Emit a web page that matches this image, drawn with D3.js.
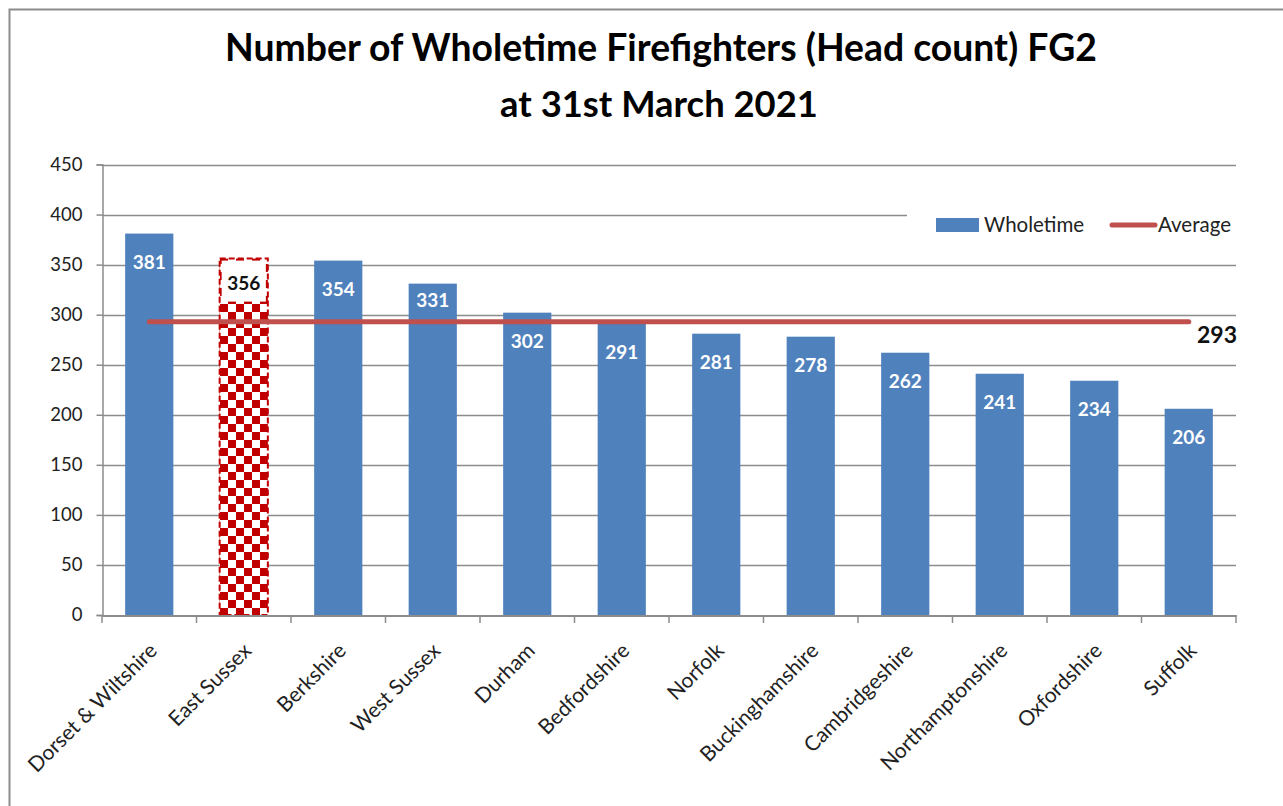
<!DOCTYPE html>
<html><head><meta charset="utf-8">
<script src="https://cdn.jsdelivr.net/npm/d3@7"></script>
<style>body{margin:0;background:#fff;} svg{display:block;}</style>
</head><body>
<script>
const categories = ["Dorset & Wiltshire","East Sussex","Berkshire","West Sussex","Durham","Bedfordshire","Norfolk","Buckinghamshire","Cambridgeshire","Northamptonshire","Oxfordshire","Suffolk"];
const wholetime = [381,356,354,331,302,291,281,278,262,241,234,206];
const average = 293;
const highlight = "East Sussex";
const yTicks = [0,50,100,150,200,250,300,350,400,450];
const titleLines = ["Number of Wholetime Firefighters (Head count) FG2","at 31st March 2021"];

const W=1283,H=806;
const FONT="Lato, 'Open Sans', sans-serif";
const svg=d3.select("body").append("svg").attr("width",W).attr("height",H);
svg.append("rect").attr("width",W).attr("height",H).attr("fill","#fff");
// outer border
svg.append("path").attr("d","M9.5,806 V9.5 H1283").attr("fill","none").attr("stroke","#8c8c8c").attr("stroke-width",2);

const defs=svg.append("defs");
const pat=defs.append("pattern").attr("id","checker").attr("patternUnits","userSpaceOnUse")
  .attr("width",16).attr("height",16).attr("x",220).attr("y",0);
pat.append("rect").attr("width",16).attr("height",16).attr("fill","#fff");
pat.append("rect").attr("width",8).attr("height",8).attr("fill","#c00000");
pat.append("rect").attr("x",8).attr("y",8).attr("width",8).attr("height",8).attr("fill","#c00000");

const x=d3.scaleBand().domain(categories).range([102,1236]).paddingInner(0.49).paddingOuter(0.245);
const y=d3.scaleLinear().domain([0,450]).range([615,164.5]);

// gridlines
svg.append("g").selectAll("line").data(yTicks.filter(d=>d>0)).join("line")
  .attr("x1",102).attr("x2",1236).attr("y1",d=>Math.round(y(d))+0.5).attr("y2",d=>Math.round(y(d))+0.5)
  .attr("stroke","#8c8c8c").attr("stroke-width",1.5);

// y axis
const yAxis=svg.append("g").attr("transform","translate(102.5,0)")
  .call(d3.axisLeft(y).tickValues(yTicks).tickSize(6).tickPadding(14));
yAxis.select(".domain").attr("stroke","#8c8c8c").attr("stroke-width",1.5);
yAxis.selectAll(".tick line").attr("stroke","#8c8c8c").attr("stroke-width",1.5);
yAxis.selectAll("text").attr("font-family",FONT).attr("font-size",18.5).attr("fill","#222");

// bars
svg.append("g").selectAll("rect").data(categories).join("rect")
  .attr("x",d=>x(d)).attr("width",x.bandwidth())
  .attr("y",(d,i)=>y(wholetime[i])).attr("height",(d,i)=>y(0)-y(wholetime[i]))
  .attr("fill",d=>d===highlight?"url(#checker)":"#4f81bd")
  .attr("stroke",d=>d===highlight?"#c00000":"none")
  .attr("stroke-width",2).attr("stroke-dasharray","6,3");

// highlight label box
const hi=categories.indexOf(highlight);
svg.append("rect").attr("x",x(highlight)+2).attr("y",y(wholetime[hi])+2)
  .attr("width",x.bandwidth()-4).attr("height",41).attr("fill","#fff");

// x axis
const xAxis=svg.append("g").attr("transform","translate(0,615.5)")
  .call(d3.axisBottom(x).tickSize(0).tickFormat(""));
xAxis.select(".domain").attr("stroke","#8c8c8c").attr("stroke-width",2);
const bounds=d3.range(categories.length+1).map(i=>102+i*x.step());
svg.append("g").selectAll("line").data(bounds).join("line")
  .attr("x1",d=>d).attr("x2",d=>d).attr("y1",615).attr("y2",623)
  .attr("stroke","#8c8c8c").attr("stroke-width",1.5);
svg.append("g").selectAll("text").data(categories).join("text")
  .attr("transform",d=>`translate(${x(d)+x.bandwidth()/2+9},${652}) rotate(-45)`)
  .attr("text-anchor","end").attr("font-family",FONT).attr("font-size",21).attr("fill","#222")
  .text(d=>d);

// average line
svg.append("line").attr("x1",x(categories[0])+x.bandwidth()/2).attr("x2",x(categories[categories.length-1])+x.bandwidth()/2)
  .attr("y1",y(average)).attr("y2",y(average)).attr("stroke","#c0504d").attr("stroke-width",5).attr("stroke-linecap","round");
svg.append("text").attr("x",1237).attr("y",y(average)+21).attr("text-anchor","end")
  .attr("font-family",FONT).attr("font-weight","bold").attr("font-size",23).attr("fill","#111").text(average);

// data labels (moved up when they would collide with the average line)
svg.append("g").selectAll("text").data(categories).join("text")
  .attr("x",d=>x(d)+x.bandwidth()/2)
  .attr("y",(d,i)=>{
    const top=y(wholetime[i]);
    if(d===highlight) return top+31;
    let b=top+35;
    if(b>y(average)-4 && b-14<y(average)+4) b=top+23;
    return b;
  })
  .attr("text-anchor","middle").attr("font-family",FONT).attr("font-weight","bold").attr("font-size",19)
  .attr("fill",d=>d===highlight?"#111":"#fff").text((d,i)=>wholetime[i]);

// legend
svg.append("rect").attr("x",907).attr("y",205).attr("width",335).attr("height",40).attr("fill","#fff");
svg.append("rect").attr("x",936).attr("y",218).attr("width",43).attr("height",14).attr("fill","#4f81bd");
svg.append("text").attr("x",984).attr("y",232).attr("font-family",FONT).attr("font-size",20.5).attr("fill","#222").text("Wholetime");
svg.append("line").attr("x1",1112).attr("x2",1155).attr("y1",225).attr("y2",225).attr("stroke","#c0504d").attr("stroke-width",5).attr("stroke-linecap","round");
svg.append("text").attr("x",1158).attr("y",232).attr("font-family",FONT).attr("font-size",20.5).attr("fill","#222").text("Average");

// title
const targets=[{w:872,c:661,b:61},{w:318,c:659,b:117}];
titleLines.forEach((t,i)=>{
  const tx=svg.append("text").attr("x",targets[i].c).attr("y",targets[i].b).attr("text-anchor","middle")
    .attr("font-family",FONT).attr("font-weight","bold").attr("font-size",36).attr("fill","#000").text(t);
  const len=tx.node().getComputedTextLength();
  tx.attr("font-size",Math.min(44,36*targets[i].w/len));
});
</script>
</body></html>
